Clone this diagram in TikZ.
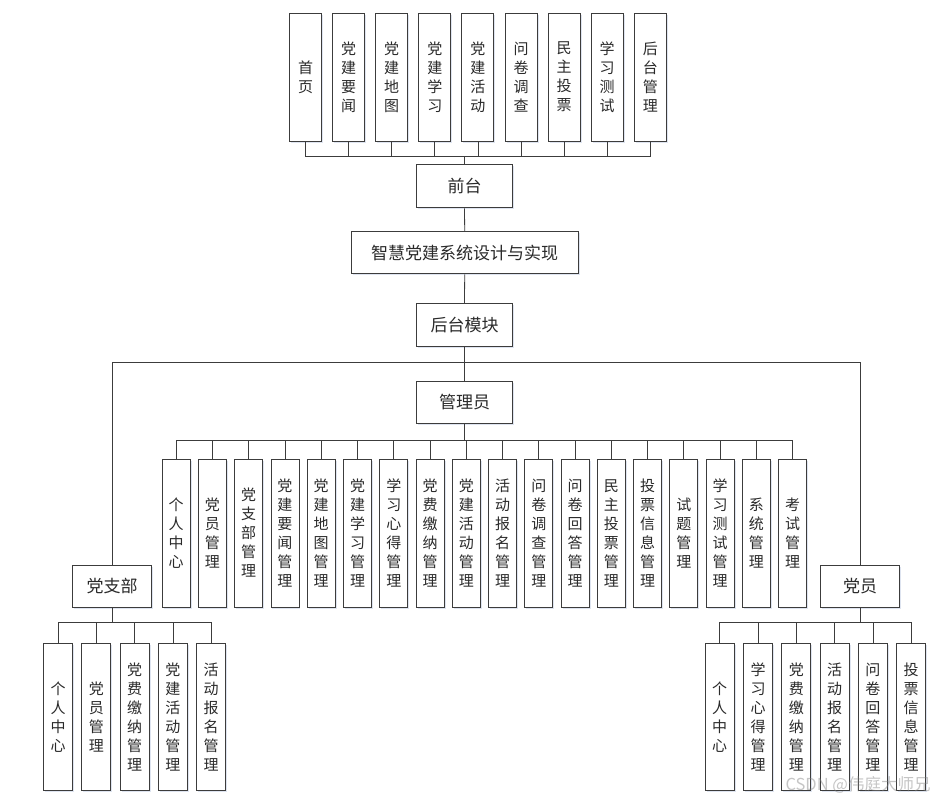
\documentclass[tikz,border=0pt]{standalone}
\usepackage{fontspec}
\newfontfamily\cjk{Noto Sans CJK SC}
\usetikzlibrary{shadows}
\definecolor{Edge}{HTML}{3C3C3C}
\definecolor{Ink}{HTML}{2A2A2A}
\definecolor{Shade}{HTML}{C8D2E6}

\begin{document}
\begin{tikzpicture}[x=1pt,y=-1pt,
hbox/.style={draw=Edge,line width=0.9pt,fill=white,text=Ink,inner sep=0pt,font=\cjk\fontsize{17}{19}\selectfont,
  drop shadow={shadow xshift=1.5pt,shadow yshift=-1.5pt,fill=Shade,opacity=0.6}},
vbox/.style={hbox,align=center,font=\cjk\fontsize{15}{19}\selectfont},
link/.style={draw=Edge,line width=0.8pt}]
\useasboundingbox[fill=white] (0,0) rectangle (940,801);

% front end row
\foreach \n/\t in {1/{首\\页},2/{党\\建\\要\\闻},3/{党\\建\\地\\图},4/{党\\建\\学\\习},5/{党\\建\\活\\动},
  6/{问\\卷\\调\\查},7/{民\\主\\投\\票},8/{学\\习\\测\\试},9/{后\\台\\管\\理}}
  \node[vbox,minimum width=32,minimum height=128] (t\n) at ({305.5+43.1*(\n-1)},77) {\t};

\node[hbox,minimum width=96,minimum height=43] (front) at (464.5,186.3) {前台};
\node[hbox,minimum width=227,minimum height=42] (sys) at (464.7,252.8) {智慧党建系统设计与实现};
\node[hbox,minimum width=96,minimum height=43] (back) at (464.5,324.7) {后台模块};
\node[hbox,minimum width=96,minimum height=42] (admin) at (464.5,402.5) {管理员};
\node[hbox,minimum width=79,minimum height=42] (branch) at (112,586) {党支部};
\node[hbox,minimum width=79,minimum height=42] (member) at (860,586) {党员};

% admin modules
\foreach \n/\t in {1/{个\\人\\中\\心},2/{党\\员\\管\\理},3/{党\\支\\部\\管\\理},4/{党\\建\\要\\闻\\管\\理},
  5/{党\\建\\地\\图\\管\\理},6/{党\\建\\学\\习\\管\\理},7/{学\\习\\心\\得\\管\\理},8/{党\\费\\缴\\纳\\管\\理},
  9/{党\\建\\活\\动\\管\\理},10/{活\\动\\报\\名\\管\\理},11/{问\\卷\\调\\查\\管\\理},12/{问\\卷\\回\\答\\管\\理},
  13/{民\\主\\投\\票\\管\\理},14/{投\\票\\信\\息\\管\\理},15/{试\\题\\管\\理},16/{学\\习\\测\\试\\管\\理},
  17/{系\\统\\管\\理},18/{考\\试\\管\\理}}
  \node[vbox,minimum width=28,minimum height=148] (a\n) at ({176.2+36.26*(\n-1)},533) {\t};

% branch modules
\foreach \n/\t in {1/{个\\人\\中\\心},2/{党\\员\\管\\理},3/{党\\费\\缴\\纳\\管\\理},4/{党\\建\\活\\动\\管\\理},
  5/{活\\动\\报\\名\\管\\理}}
  \node[vbox,minimum width=29,minimum height=147] (b\n) at ({58+38.3*(\n-1)},717) {\t};

% member modules
\foreach \n/\t in {1/{个\\人\\中\\心},2/{学\\习\\心\\得\\管\\理},3/{党\\费\\缴\\纳\\管\\理},4/{活\\动\\报\\名\\管\\理},
  5/{问\\卷\\回\\答\\管\\理},6/{投\\票\\信\\息\\管\\理}}
  \node[vbox,minimum width=29,minimum height=147] (m\n) at ({719.7+38.3*(\n-1)},717) {\t};

% connectors
\foreach \n in {1,...,9}{\draw[link] (front.north) -- ++(0,-8.3) -| (t\n.south);}
\draw[link] (front.south) -- (sys.north);
\draw[link] (sys.south) -- (back.north);
\draw[link] (back.south) -- (admin.north);
\draw[link] (back.south) -- ++(0,15.7) -| (branch.north);
\draw[link] (back.south) -- ++(0,15.7) -| (member.north);
\foreach \n in {1,...,18}{\draw[link] (admin.south) -- ++(0,16.7) -| (a\n.north);}
\foreach \n in {1,...,5}{\draw[link] (branch.south) -- ++(0,15.4) -| (b\n.north);}
\foreach \n in {1,...,6}{\draw[link] (member.south) -- ++(0,15.4) -| (m\n.north);}

\node[text=gray,opacity=0.45,font=\cjk\fontsize{16.5}{18}\selectfont] (mark) at (858,785) {CSDN @伟庭大师兄};
\end{tikzpicture}
\end{document}
